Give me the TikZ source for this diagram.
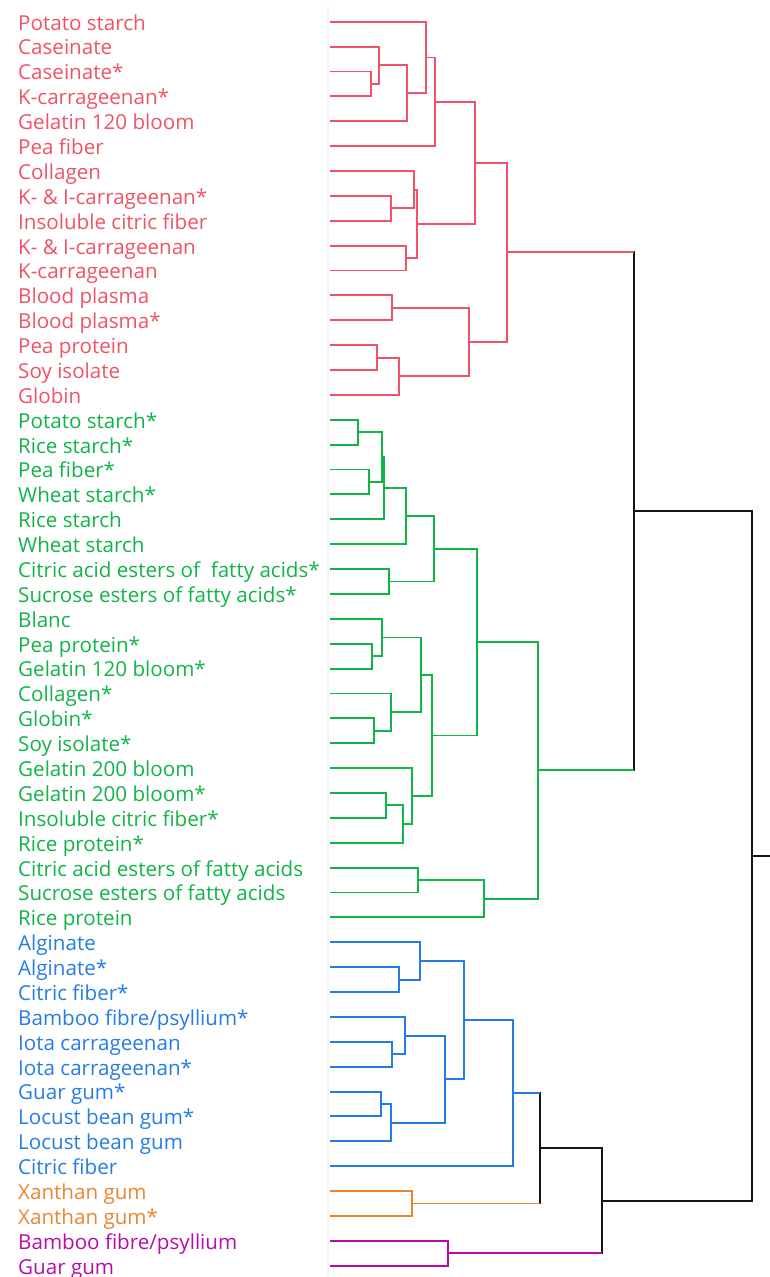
\documentclass[tikz,border=0pt]{standalone}
\usepackage{fontspec}
\setmainfont{Open Sans}
\usetikzlibrary{calc}
\definecolor{cr}{RGB}{240,82,102}
\definecolor{cg}{RGB}{16,180,72}
\definecolor{cb}{RGB}{36,124,230}
\definecolor{co}{RGB}{234,134,48}
\definecolor{cp}{RGB}{184,12,168}
\definecolor{ck}{RGB}{20,20,20}
\newcommand\mrg[5]{%
  \path let \p1=($(#3)!.5!(#4)$) in coordinate (#1) at (#2pt,\y1);
  \draw[link,#5] (#3) -- (#3 -| #1) -- (#4 -| #1) -- (#4);}
\newcommand\topmrg[7]{%
  \path let \p1=($(#3)!.5!(#4)$) in coordinate (#1) at (#2pt,\y1);
  \draw[link,#7,line cap=rect] (#3 -| #1) -- (#4 -| #1);
  \draw[link,#5] (#3) -- (#3 -| #1);
  \draw[link,#6] (#4) -- (#4 -| #1);}
\begin{document}
\begin{tikzpicture}[x=1pt,y=-1pt,
  link/.style={line width=1.9pt,line join=miter},
  lab/.style={anchor=base west,inner sep=0pt,font=\fontsize{20.6}{22}\selectfont}]
\useasboundingbox (0,0) rectangle (770,1277);
\draw[black!4,line width=2pt] (328,6) coordinate (g1) -- (328,1277) coordinate (g2);
\foreach \t [count=\i from 0] in {Potato starch,Caseinate,Caseinate*,K-carrageenan*,Gelatin 120 bloom,Pea fiber,Collagen,K- \& I-carrageenan*,Insoluble citric fiber,K- \& I-carrageenan,K-carrageenan,Blood plasma,Blood plasma*,Pea protein,Soy isolate,Globin}
  {\node[lab,text=cr] (t\i) at (18,{21.7+24.88*\i+8.4}) {\t};
   \coordinate (l\i) at (330,{21.7+24.88*\i});}
\foreach \t [count=\i from 16] in {Potato starch*,Rice starch*,Pea fiber*,Wheat starch*,Rice starch,Wheat starch,Citric acid esters of \ fatty acids*,Sucrose esters of fatty acids*,Blanc,Pea protein*,Gelatin 120 bloom*,Collagen*,Globin*,Soy isolate*,Gelatin 200 bloom,Gelatin 200 bloom*,Insoluble citric fiber*,Rice protein*,Citric acid esters of fatty acids,Sucrose esters of fatty acids,Rice protein}
  {\node[lab,text=cg] (t\i) at (18,{21.7+24.88*\i+8.4}) {\t};
   \coordinate (l\i) at (330,{21.7+24.88*\i});}
\foreach \t [count=\i from 37] in {Alginate,Alginate*,Citric fiber*,Bamboo fibre/psyllium*,Iota carrageenan,Iota carrageenan*,Guar gum*,Locust bean gum*,Locust bean gum,Citric fiber}
  {\node[lab,text=cb] (t\i) at (18,{21.7+24.88*\i+8.4}) {\t};
   \coordinate (l\i) at (330,{21.7+24.88*\i});}
\foreach \t [count=\i from 47] in {Xanthan gum,Xanthan gum*}
  {\node[lab,text=co] (t\i) at (18,{21.7+24.88*\i+8.4}) {\t};
   \coordinate (l\i) at (330,{21.7+24.88*\i});}
\foreach \t [count=\i from 49] in {Bamboo fibre/psyllium,Guar gum}
  {\node[lab,text=cp] (t\i) at (18,{21.7+24.88*\i+8.4}) {\t};
   \coordinate (l\i) at (330,{21.7+24.88*\i});}
% red
\mrg{r23}{371}{l2}{l3}{cr}
\mrg{r123}{379}{l1}{r23}{cr}
\mrg{r1234}{407}{r123}{l4}{cr}
\mrg{r01234}{426}{l0}{r1234}{cr}
\mrg{r05}{435}{r01234}{l5}{cr}
\mrg{r78}{391}{l7}{l8}{cr}
\mrg{r678}{414}{l6}{r78}{cr}
\mrg{r910}{406}{l9}{l10}{cr}
\mrg{r610}{417}{r678}{r910}{cr}
\mrg{r010}{475}{r05}{r610}{cr}
\mrg{r1112}{392}{l11}{l12}{cr}
\mrg{r1314}{377}{l13}{l14}{cr}
\mrg{r1315}{399}{r1314}{l15}{cr}
\mrg{r1115}{469}{r1112}{r1315}{cr}
\mrg{rtop}{507}{r010}{r1115}{cr}
% green
\mrg{g1617}{358}{l16}{l17}{cg}
\mrg{g1819}{369}{l18}{l19}{cg}
\mrg{g1619}{382}{g1617}{g1819}{cg}
\mrg{g1620}{384}{g1619}{l20}{cg}
\mrg{g1621}{405.7}{g1620}{l21}{cg}
\mrg{g2223}{389}{l22}{l23}{cg}
\mrg{g1623}{434.3}{g1621}{g2223}{cg}
\mrg{g2526}{371.7}{l25}{l26}{cg}
\mrg{g2426}{382}{l24}{g2526}{cg}
\mrg{g2829}{374.3}{l28}{l29}{cg}
\mrg{g2729}{391}{l27}{g2829}{cg}
\mrg{g2429}{420.7}{g2426}{g2729}{cg}
\mrg{g3132}{385.7}{l31}{l32}{cg}
\mrg{g3133}{403.3}{g3132}{l33}{cg}
\mrg{g3033}{412.3}{l30}{g3133}{cg}
\mrg{g2433}{432}{g2429}{g3033}{cg}
\mrg{g1633}{477}{g1623}{g2433}{cg}
\mrg{g3435}{418}{l34}{l35}{cg}
\mrg{g3436}{484.3}{g3435}{l36}{cg}
\mrg{gtop}{537.7}{g1633}{g3436}{cg}
% blue
\mrg{b3839}{399.3}{l38}{l39}{cb}
\mrg{b3739}{419.7}{l37}{b3839}{cb}
\mrg{b4142}{391.7}{l41}{l42}{cb}
\mrg{b4042}{404.7}{l40}{b4142}{cb}
\mrg{b4344}{381}{l43}{l44}{cb}
\mrg{b4345}{391}{b4344}{l45}{cb}
\mrg{b4045}{445.3}{b4042}{b4345}{cb}
\mrg{b3745}{464}{b3739}{b4045}{cb}
\mrg{btop}{513.3}{b3745}{l46}{cb}
% orange, purple
\mrg{otop}{411.7}{l47}{l48}{co}
\mrg{ptop}{448.3}{l49}{l50}{cp}
% black
\topmrg{k1}{634.3}{rtop}{gtop}{cr}{cg}{ck}
\topmrg{k2}{540}{btop}{otop}{cb}{co}{ck}
\topmrg{k3}{601.7}{k2}{ptop}{ck}{cp}{ck}
\topmrg{k4}{752.3}{k1}{k3}{ck}{ck}{ck}
\coordinate (root) at (775,0);
\draw[link,ck] (k4) -- (k4 -| root);
\end{tikzpicture}
\end{document}
